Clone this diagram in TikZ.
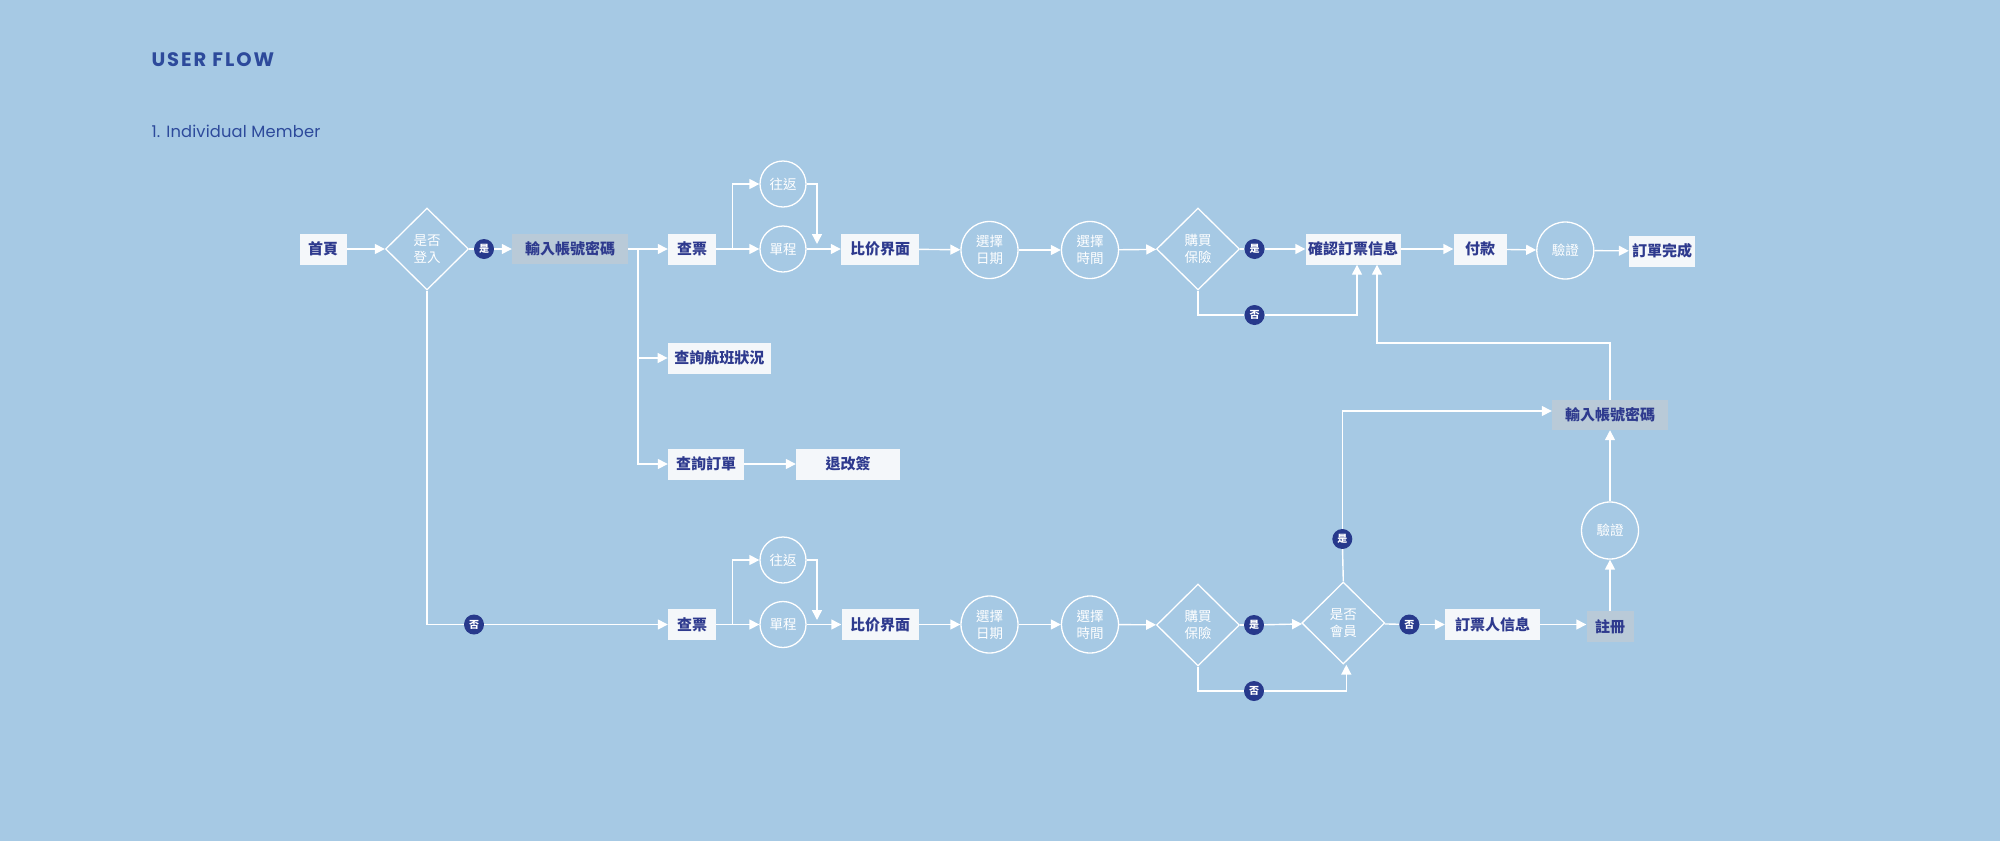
\documentclass[tikz,border=0pt]{standalone}
\usepackage{fontspec}
\setmainfont{Poppins}
\newfontfamily\titlefont[LetterSpace=10]{Poppins}
\newfontfamily\subfont[LetterSpace=1]{Poppins}
\newfontfamily\cjk{Noto Sans CJK TC}
\usetikzlibrary{arrows.meta,shapes.geometric}
\definecolor{bgc}{HTML}{A6C9E4}
\definecolor{boxc}{HTML}{F4F7FA}
\definecolor{greyc}{HTML}{B9CAD8}
\definecolor{navy}{HTML}{2E3A8E}
\definecolor{badgec}{HTML}{27398C}
\definecolor{titlec}{HTML}{2D4A9B}
\tikzset{
  box/.style={fill=boxc, text=navy, font=\cjk\bfseries\fontsize{15}{18}\selectfont, minimum height=31pt, inner sep=0pt},
  gbox/.style={box, fill=greyc},
  circ/.style={circle, draw=white, line width=1.3pt, text=white, font=\cjk\fontsize{13.5}{17}\selectfont, align=center, inner sep=0pt},
  dia/.style={diamond, draw=white, line width=1.3pt, text=white, font=\cjk\fontsize{13.5}{17}\selectfont, align=center, inner sep=0pt, minimum width=83pt, minimum height=82pt},
  badge/.style={circle, fill=badgec, text=white, minimum size=20pt, inner sep=0pt, font=\cjk\bfseries\fontsize{10}{10}\selectfont},
  link/.style={draw=white, line width=1.4pt},
  flow/.style={link, -{Triangle[length=10pt,width=10pt]}}
}
\begin{document}
\begin{tikzpicture}[x=1pt,y=-1pt]
\fill[bgc] (0,0) rectangle (2000,841);
\useasboundingbox (0,0) rectangle (2000,841);

\node[anchor=west, text=titlec, font=\titlefont\bfseries\fontsize{19.5}{22}\selectfont] (title) at (148,60) {USER FLOW};
\node[anchor=west, text=titlec, font=\subfont\fontsize{16.3}{20}\selectfont] (sub) at (148,131) {1. Individual Member};

% ---- row 1 ----
\node[box, minimum width=47pt] (home) at (323,249) {首頁};
\node[dia] (login) at (427,249) {是否\\登入};
\node[badge] (yes1) at (484,249) {是};
\node[gbox, minimum width=116pt, minimum height=30pt] (pw1) at (570,249) {輸入帳號密碼};
\node[box, minimum width=48pt] (q1) at (692,249) {查票};
\node[circ, minimum size=46pt] (rt1) at (783,184) {往返};
\node[circ, minimum size=46pt] (ow1) at (783,249) {單程};
\node[box, minimum width=78pt] (cmp1) at (880,249) {比价界面};
\node[circ, minimum size=57pt] (d1) at (989.5,250) {選擇\\日期};
\node[circ, minimum size=57pt] (t1) at (1090,250) {選擇\\時間};
\node[dia] (ins1) at (1198,249) {購買\\保險};
\node[badge] (yes2) at (1254.5,249) {是};
\node[badge] (no2) at (1254.5,315) {否};
\node[box, minimum width=95pt] (conf) at (1353,249) {確認訂票信息};
\node[box, minimum width=53pt] (pay) at (1480,249) {付款};
\node[circ, minimum size=57pt] (ver1) at (1565.3,250.5) {驗證};
\node[box, minimum width=66pt] (done) at (1662,251) {訂單完成};

% ---- middle ----
\node[box, minimum width=103pt] (flight) at (719.3,358) {查詢航班狀況};
\node[box, minimum width=76pt] (order) at (706,464) {查詢訂單};
\node[box, minimum width=104pt] (change) at (848,464) {退改簽};

% ---- row 2 ----
\node[badge] (no1) at (474,624.5) {否};
\node[box, minimum width=48pt] (q2) at (692,624.5) {查票};
\node[circ, minimum size=46pt] (rt2) at (783,560) {往返};
\node[circ, minimum size=46pt] (ow2) at (783,624.5) {單程};
\node[box, minimum width=77pt] (cmp2) at (880,624.5) {比价界面};
\node[circ, minimum size=57pt] (d2) at (989.5,624.5) {選擇\\日期};
\node[circ, minimum size=57pt] (t2) at (1090,624.5) {選擇\\時間};
\node[dia] (ins2) at (1198,625) {購買\\保險};
\node[badge] (yes3) at (1254,625) {是};
\node[badge] (no3) at (1254,691) {否};
\node[dia] (mem) at (1343.3,623) {是否\\會員};
\node[badge] (no4) at (1409.3,624.5) {否};
\node[box, minimum width=95pt] (booker) at (1492.5,624.5) {訂票人信息};
\node[gbox, minimum width=47pt] (reg) at (1610,626.5) {註冊};
\node[circ, minimum size=57pt] (ver2) at (1610,530.5) {驗證};
\node[gbox, minimum width=116pt, minimum height=30pt] (pw2) at (1610,415) {輸入帳號密碼};
\node[badge] (yes4) at (1342.3,539) {是};

% ---- helper coordinates ----
\coordinate (j1) at (638,249);
\coordinate (b1) at (732.5,249);
\coordinate (c1) at (817,244);
\coordinate (b2) at (732.5,624.5);
\coordinate (c3) at (817,620);
\coordinate (c2) at (1377,343);

% ---- connectors row 1 ----
\draw[flow] (home) -- (login);
\draw[link] (login) -- (yes1);
\draw[flow] (yes1) -- (pw1);
\draw[flow] (pw1) -- (q1);
\draw[flow] (j1) |- (flight);
\draw[flow] (j1) |- (order);
\draw[flow] (order) -- (change);
\draw[flow] (q1) -- (ow1);
\draw[flow] (b1) |- (rt1);
\draw[flow] (rt1.east) -| (c1);
\draw[flow] (ow1) -- (cmp1);
\draw[flow] (cmp1) -- (d1);
\draw[flow] (d1) -- (t1);
\draw[flow] (t1) -- (ins1);
\draw[link] (ins1) -- (yes2);
\draw[flow] (yes2) -- (conf);
\draw[link] (ins1.south) |- (no2);
\draw[flow] (no2) -| ([xshift=4pt]conf.south);
\draw[flow] (conf) -- (pay);
\draw[flow] (pay) -- (ver1);
\draw[flow] (ver1) -- (done);
\draw[flow] (pw2.north) |- (c2) -- ([xshift=24pt]conf.south);

% ---- connectors row 2 ----
\draw[link] (login.south) |- (no1);
\draw[flow] (no1) -- (q2);
\draw[flow] (q2) -- (ow2);
\draw[flow] (b2) |- (rt2);
\draw[flow] (rt2.east) -| (c3);
\draw[flow] (ow2) -- (cmp2);
\draw[flow] (cmp2) -- (d2);
\draw[flow] (d2) -- (t2);
\draw[flow] (t2) -- (ins2);
\draw[link] (ins2) -- (yes3);
\draw[flow] (yes3) -- (mem);
\draw[link] (ins2.south) |- (no3);
\draw[flow] (no3) -| ([xshift=3pt]mem.south);
\draw[link] (mem.north) -- (yes4);
\draw[flow] (yes4) |- ([yshift=4pt]pw2.west);
\draw[link] (mem) -- (no4);
\draw[flow] (no4) -- (booker);
\draw[flow] (booker.east) -- (booker.east -| reg.west);
\draw[flow] (reg) -- (ver2);
\draw[flow] (ver2) -- (pw2);
\end{tikzpicture}
\end{document}
